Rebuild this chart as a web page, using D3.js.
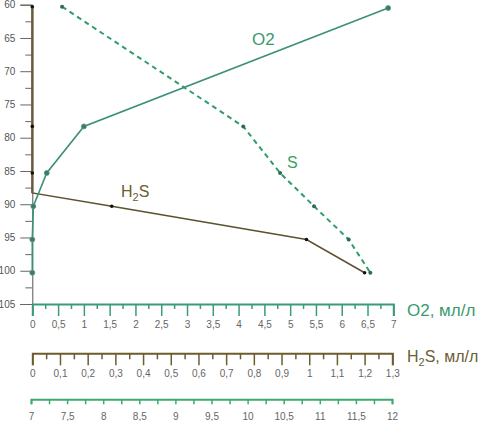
<!DOCTYPE html>
<html>
<head>
<meta charset="utf-8">
<script src="https://cdn.jsdelivr.net/npm/d3@7"></script>
<style>
  body { margin: 0; background: #fff; }
  svg { display: block; font-family: "Liberation Sans", Arial, sans-serif; }
</style>
</head>
<body>
<div id="container"></div>
<script>
var width = 482;
var height = 421;

// depth, O2 (ml/l)
var o2Depth = [100.3, 95.3, 90.3, 85.3, 78.3, 60.5];
var o2Values = [0, 0, 0.02, 0.28, 1.0, 6.9];

// H2S (ml/l)
var h2sDepth = [60.3, 78.3, 85.3, 88.3, 90.3, 95.3, 100.3];
var h2sValues = [0, 0, 0, 0, 0.287, 0.99, 1.2];
var h2sDots = [true, true, true, false, true, true, true];

// S, third axis 7..12
var sDepth = [60.3, 78.3, 85.3, 90.3, 95.3, 100.3];
var sValues = [7.43, 9.94, 10.45, 10.92, 11.4, 11.7];

var depthTicks = d3.range(60, 105.1, 2.5);
var o2Ticks = d3.range(0, 7.01, 0.25);
var h2sTicks = d3.range(0, 1.301, 0.05);
var sTicks = d3.range(7, 12.01, 0.25);

var cO2 = "#3b8f7b";
var cO2Axis = "#3a9a7c";
var cH2S = "#5c5230";
var cH2SAxis = "#6b5d2e";
var cS = "#2f9c6a";
var cSAxis = "#3caa6e";

var svg = d3.select("div#container")
  .append("svg")
  .attr("width", width)
  .attr("height", height);

var y = d3.scaleLinear().domain([60, 105]).range([4.7, 304]);
var xO2 = d3.scaleLinear().domain([0, 7]).range([32.3, 393.3]);
var xH2S = d3.scaleLinear().domain([0, 1.3]).range([32.3, 392.3]);
var xS = d3.scaleLinear().domain([7, 12]).range([31, 392]);

function isMajor(v, step) {
  return Math.abs(v / step - Math.round(v / step)) < 1e-6;
}
function fmt(v) {
  return String(+v.toFixed(2)).replace(".", ",");
}

// y axis
var yAxis = svg.append("g")
  .attr("transform", "translate(32.3,0)")
  .call(d3.axisLeft(y)
    .tickValues(depthTicks)
    .tickSizeOuter(0)
    .tickSize(12)
    .tickPadding(5)
    .tickFormat(d => isMajor(d, 5) ? d : ""));
yAxis.select(".domain").attr("stroke", "#555").attr("stroke-width", 1);
yAxis.selectAll(".tick line")
  .attr("stroke", "#666")
  .attr("x2", d => isMajor(d, 5) ? -12 : -7);
yAxis.selectAll("text").attr("fill", "#555").style("font-size", "10px");

// bottom axes
function bottomAxis(scale, ticks, step, yPos, color, major, minor, labelDy) {
  var g = svg.append("g")
    .attr("transform", "translate(0," + yPos + ")")
    .call(d3.axisBottom(scale)
      .tickValues(ticks)
      .tickSizeOuter(0)
      .tickSize(major)
      .tickPadding(labelDy)
      .tickFormat(d => isMajor(d, step) ? fmt(d) : ""));
  g.select(".domain").attr("stroke", color).attr("stroke-width", 2);
  g.selectAll(".tick line")
    .attr("stroke", color)
    .attr("stroke-width", 1.5)
    .attr("y2", d => isMajor(d, step) ? major : minor);
  g.selectAll("text").attr("fill", "#666").style("font-size", "10px");
  return g;
}

bottomAxis(xO2, o2Ticks, 0.5, 304, cO2Axis, 12, 5, 5);
bottomAxis(xH2S, h2sTicks, 0.1, 353.3, cH2SAxis, 12, 6, 5);
bottomAxis(xS, sTicks, 0.5, 399.3, cSAxis, 5, 5, 9);

// H2S line
var h2sLine = d3.line()
  .x((d, i) => xH2S(h2sValues[i]))
  .y(d => y(d));
svg.append("path")
  .attr("d", h2sLine(h2sDepth))
  .attr("fill", "none")
  .attr("stroke", cH2S)
  .attr("stroke-width", 1.5);
svg.append("path")
  .attr("d", h2sLine(h2sDepth.slice(0, 4)))
  .attr("fill", "none")
  .attr("stroke", "#6b5a38")
  .attr("stroke-width", 2.2);

// O2 line
var o2Line = d3.line()
  .x((d, i) => xO2(o2Values[i]))
  .y(d => y(d));
svg.append("path")
  .attr("d", o2Line(o2Depth))
  .attr("fill", "none")
  .attr("stroke", cO2)
  .attr("stroke-width", 1.6);

// S dashed line
var sLine = d3.line()
  .x((d, i) => xS(sValues[i]))
  .y(d => y(d));
svg.append("path")
  .attr("d", sLine(sDepth))
  .attr("fill", "none")
  .attr("stroke", cS)
  .attr("stroke-width", 2)
  .attr("stroke-dasharray", "5,4");

// markers
svg.append("g").selectAll("circle")
  .data(sDepth)
  .join("circle")
  .attr("cx", (d, i) => xS(sValues[i]))
  .attr("cy", d => y(d))
  .attr("r", 2)
  .attr("fill", "#2f6a55");

svg.append("g").selectAll("circle")
  .data(o2Depth)
  .join("circle")
  .attr("cx", (d, i) => xO2(o2Values[i]))
  .attr("cy", d => y(d))
  .attr("r", 2.5)
  .attr("fill", "#3d7a68")
  .attr("stroke", "#5a9a88")
  .attr("stroke-width", 0.8);

svg.append("g").selectAll("circle")
  .data(h2sDepth.filter((d, i) => h2sDots[i]))
  .join("circle")
  .attr("cx", (d) => xH2S(h2sValues[h2sDepth.indexOf(d)]))
  .attr("cy", d => y(d))
  .attr("r", 1.8)
  .attr("fill", "#111");

// series labels
svg.append("text")
  .attr("x", 252).attr("y", 45)
  .attr("fill", "#3a9a6e")
  .style("font-size", "17px")
  .text("O2");

svg.append("text")
  .attr("x", 287).attr("y", 168)
  .attr("fill", "#3aa060")
  .style("font-size", "16px")
  .text("S");

var h2sLabel = svg.append("text")
  .attr("x", 121).attr("y", 197)
  .attr("fill", "#6b5d35")
  .style("font-size", "16px");
h2sLabel.append("tspan").text("H");
h2sLabel.append("tspan").attr("dy", 4).style("font-size", "11px").text("2");
h2sLabel.append("tspan").attr("dy", -4).text("S");

// axis titles
svg.append("text")
  .attr("x", 407).attr("y", 316)
  .attr("fill", "#3a9a6e")
  .style("font-size", "17px")
  .text("O2, мл/л");

var h2sTitle = svg.append("text")
  .attr("x", 407).attr("y", 362)
  .attr("fill", "#6b5d35")
  .style("font-size", "16px");
h2sTitle.append("tspan").text("H");
h2sTitle.append("tspan").attr("dy", 4).style("font-size", "11px").text("2");
h2sTitle.append("tspan").attr("dy", -4).text("S, мл/л");
</script>
</body>
</html>
